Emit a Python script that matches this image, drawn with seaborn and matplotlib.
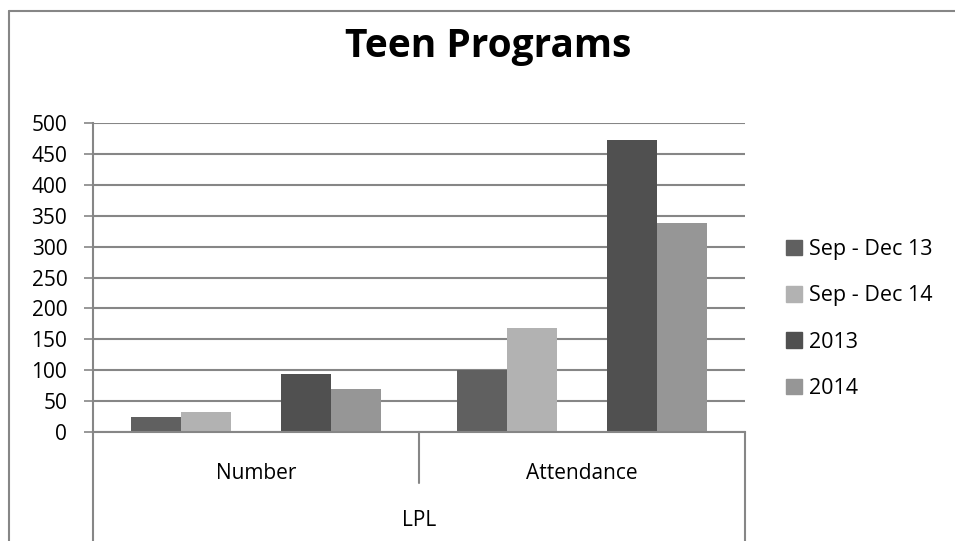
import matplotlib
matplotlib.use("Agg")
import matplotlib.pyplot as plt
import matplotlib.patches as mpatches
from matplotlib.lines import Line2D
import pandas as pd
import seaborn as sns

# chart data
categories = ["Number", "Attendance"]
series = ["Sep - Dec 13", "Sep - Dec 14", "2013", "2014"]
sep_dec_13 = [24, 101]
sep_dec_14 = [32, 168]
year_2013 = [94, 472]
year_2014 = [70, 338]
outer_label = "LPL"
y_ticks = [0, 50, 100, 150, 200, 250, 300, 350, 400, 450, 500]

colors = {"Sep - Dec 13": "#606060", "Sep - Dec 14": "#b2b2b2",
          " ": "#ffffff", "2013": "#505050", "2014": "#969696"}
grid_gray = "#868686"

# the Excel chart leaves an empty slot between the two pairs of bars
blank = " "
rows = []
for i, cat in enumerate(categories):
    rows.append((cat, series[0], sep_dec_13[i]))
    rows.append((cat, series[1], sep_dec_14[i]))
    rows.append((cat, blank, 0))
    rows.append((cat, series[2], year_2013[i]))
    rows.append((cat, series[3], year_2014[i]))
df = pd.DataFrame(rows, columns=["category", "series", "value"])
hue_order = [series[0], series[1], blank, series[2], series[3]]

sns.set_style("white")
plt.rcParams["font.family"] = ["Open Sans", "DejaVu Sans"]
plt.rcParams["text.color"] = "black"
plt.rcParams["xtick.labelcolor"] = "black"
plt.rcParams["ytick.labelcolor"] = "black"
fs = 15

W, H = 955, 541
fig = plt.figure(figsize=(W / 100, H / 100), dpi=100)
ax = fig.add_axes([93 / W, 1 - 432 / H, (745 - 93) / W, (432 - 123) / H])

sns.barplot(data=df, x="category", y="value", hue="series", order=categories,
            hue_order=hue_order, palette=colors, width=0.767, dodge=True,
            edgecolor="none", linewidth=0, errorbar=None, ax=ax, legend=False)

ax.set_xlim(-0.5, 1.5)
ax.set_ylim(0, 500)
ax.set_yticks(y_ticks)
ax.set_yticklabels([str(t) for t in y_ticks], fontsize=fs)
ax.set_xlabel("")
ax.set_ylabel("")
ax.yaxis.grid(True, color=grid_gray, linewidth=1.5)
ax.set_axisbelow(True)
ax.tick_params(axis="y", length=6.5, width=1.2, color=grid_gray, pad=12, left=True)
ax.tick_params(axis="x", length=0, pad=22, labelsize=fs)
for side in ["top", "right"]:
    ax.spines[side].set_visible(False)
for side in ["left", "bottom"]:
    ax.spines[side].set_color(grid_gray)
    ax.spines[side].set_linewidth(1.5)

# multi-level category axis separators
line_kw = dict(color=grid_gray, linewidth=1.5, clip_on=False, transform=ax.get_xaxis_transform())
ax.plot([-0.5, -0.5], [0, -0.36], **line_kw)
ax.plot([0.5, 0.5], [0, -0.165], **line_kw)
ax.plot([1.5, 1.5], [0, -0.36], **line_kw)
ax.text(0.5, -0.285, outer_label, transform=ax.get_xaxis_transform(),
        ha="center", va="center", fontsize=fs)

# title
fig.text(488 / W, 1 - 47 / H, "Teen Programs", ha="center", va="center",
         fontsize=28, fontweight="bold")

# legend on the right, without the blank slot
handles = [mpatches.Patch(color=colors[s], label=s) for s in series]
fig.legend(handles=handles, loc="center left", bbox_to_anchor=(786 / W, 1 - 319 / H),
           frameon=False, fontsize=15.5, handlelength=0.72, handleheight=0.72,
           handletextpad=0.35, labelspacing=1.17, borderpad=0, borderaxespad=0)

# chart area border (only top and left edges are inside the picture)
border_kw = dict(transform=fig.transFigure, color=grid_gray, linewidth=1.5)
fig.add_artist(Line2D([9 / W, 1.0], [1 - 11 / H, 1 - 11 / H], **border_kw))
fig.add_artist(Line2D([9 / W, 9 / W], [0, 1 - 11 / H], **border_kw))

fig.savefig("out.png", dpi=100)
